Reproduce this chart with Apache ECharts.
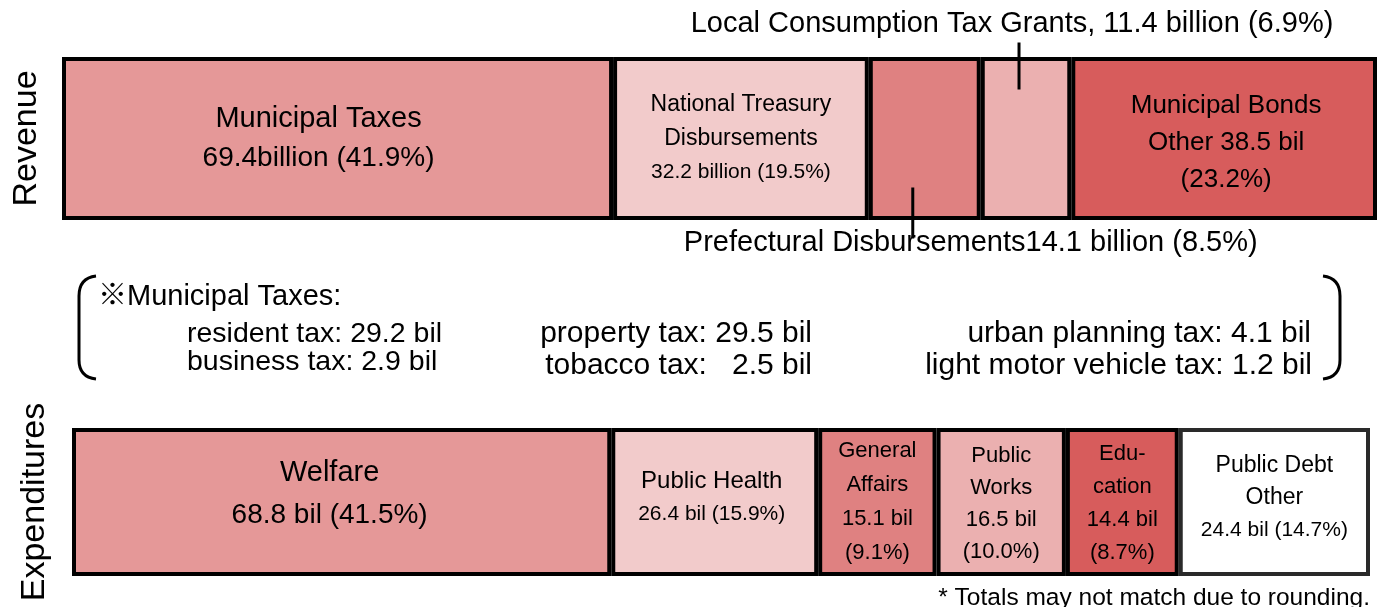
<!DOCTYPE html>
<html>
<head>
<meta charset="utf-8">
<title>Revenue / Expenditures</title>
<script src="https://cdn.jsdelivr.net/npm/echarts@6/dist/echarts.min.js"></script>
<style>
  html, body { margin: 0; padding: 0; background: #fff; }
  #chart { width: 1384px; height: 607px; }
</style>
</head>
<body>
<div id="chart"></div>
<script>
// revenue (billion)
const revNames = ['Municipal Taxes', 'National Treasury Disbursements', 'Prefectural Disbursements', 'Local Consumption Tax Grants', 'Municipal Bonds Other'];
const revValues = [69.4, 32.2, 14.1, 11.4, 38.5];
const revShares = [41.9, 19.5, 8.5, 6.9, 23.2];

// expenditures (billion)
const expNames = ['Welfare', 'Public Health', 'General Affairs', 'Public Works', 'Education', 'Public Debt Other'];
const expValues = [68.8, 26.4, 15.1, 16.5, 14.4, 24.4];
const expShares = [41.5, 15.9, 9.1, 10.0, 8.7, 14.7];

// municipal tax breakdown (billion)
const taxNames = ['resident tax', 'business tax', 'property tax', 'tobacco tax', 'urban planning tax', 'light motor vehicle tax'];
const taxValues = [29.2, 2.9, 29.5, 2.5, 4.1, 1.2];

const revColors = ['#e59898', '#f2cbcb', '#df8181', '#ebb0b0', '#d75c5c'];
const expColors = ['#e59898', '#f2cbcb', '#df8181', '#ebb0b0', '#d75c5c', '#ffffff'];

const FONT = "'Liberation Sans', Arial, 'Noto Sans CJK JP', sans-serif";
const f1 = v => v.toFixed(1);
const sum = arr => arr.reduce((a, b) => a + b, 0);

// label layout for each box: lines, font sizes, line height, shift
const revLabels = [
  { lines: [revNames[0], f1(revValues[0]) + 'billion (' + f1(revShares[0]) + '%)'], sizes: [29, 28], lh: 40, dx: -19, dy: 0 },
  { lines: ['National Treasury', 'Disbursements', f1(revValues[1]) + ' billion (' + f1(revShares[1]) + '%)'], sizes: [23, 23, 21], lh: 34, dx: 0, dy: 0 },
  'out',
  'out',
  { lines: ['Municipal Bonds', 'Other ' + f1(revValues[4]) + ' bil', '(' + f1(revShares[4]) + '%)'], sizes: [26, 26, 26], lh: 37, dx: 2, dy: 4 }
];
const expLabels = [
  { lines: [expNames[0], f1(expValues[0]) + ' bil (' + f1(expShares[0]) + '%)'], sizes: [29, 28], lh: 43, dx: -12, dy: -8 },
  { lines: [expNames[1], f1(expValues[1]) + ' bil (' + f1(expShares[1]) + '%)'], sizes: [24, 21], lh: 33, dx: -3, dy: -4 },
  { lines: ['General', 'Affairs', f1(expValues[2]) + ' bil', '(' + f1(expShares[2]) + '%)'], sizes: [22, 22, 22, 22], lh: 34, dx: 0, dy: 0 },
  { lines: ['Public', 'Works', f1(expValues[3]) + ' bil', '(' + f1(expShares[3]) + '%)'], sizes: [22, 22, 22, 22], lh: 32, dx: 0, dy: 2 },
  { lines: ['Edu-', 'cation', f1(expValues[4]) + ' bil', '(' + f1(expShares[4]) + '%)'], sizes: [22, 22, 22, 22], lh: 33, dx: 0, dy: 1 },
  { lines: ['Public Debt', 'Other', f1(expValues[5]) + ' bil (' + f1(expShares[5]) + '%)'], sizes: [23, 23, 21], lh: 32, dx: 0, dy: -4 }
];

function boxLabel(spec) {
  const rich = {};
  spec.sizes.forEach((s, i) => {
    rich['s' + i] = { fontSize: s, lineHeight: spec.lh, fontFamily: FONT, color: '#000' };
  });
  return {
    show: true,
    position: 'inside',
    offset: [spec.dx, spec.dy],
    align: 'center',
    formatter: () => spec.lines.map((t, i) => '{s' + i + '|' + t + '}').join('\n'),
    rich: rich
  };
}

// outside labels (prefectural / local consumption)
const outLabel = {
  2: { position: 'bottom', offset: [46, 3], text: revNames[2] + f1(revValues[2]) + ' billion (' + f1(revShares[2]) + '%)' },
  3: { position: 'top', offset: [-14, -13], text: revNames[3] + ', ' + f1(revValues[3]) + ' billion (' + f1(revShares[3]) + '%)' }
};

const series = [];
revValues.forEach((v, i) => {
  let label;
  if (revLabels[i] === 'out') {
    label = {
      show: true,
      position: outLabel[i].position,
      offset: outLabel[i].offset,
      formatter: () => outLabel[i].text,
      fontFamily: FONT, fontSize: 29, lineHeight: 30, color: '#000'
    };
  } else {
    label = boxLabel(revLabels[i]);
  }
  series.push({
    name: revNames[i],
    type: 'bar',
    stack: 'rev',
    xAxisIndex: 0,
    yAxisIndex: 0,
    barCategoryGap: '0%',
    data: [v],
    itemStyle: { color: revColors[i], borderColor: '#000', borderWidth: 4 },
    label: label
  });
});
expValues.forEach((v, i) => {
  series.push({
    name: expNames[i],
    type: 'bar',
    stack: 'exp',
    xAxisIndex: 1,
    yAxisIndex: 1,
    barCategoryGap: '0%',
    data: [v],
    itemStyle: { color: expColors[i], borderColor: i === 5 ? '#2a2a2a' : '#000', borderWidth: 4 },
    label: boxLabel(expLabels[i])
  });
});

const hiddenX = (max) => ({
  type: 'value', min: 0, max: max,
  show: false, splitLine: { show: false }
});
const nameY = (name, gap) => ({
  type: 'category',
  data: [name],
  name: name,
  nameLocation: 'middle',
  nameRotate: 90,
  nameGap: gap,
  nameTextStyle: { fontFamily: FONT, fontSize: 34, color: '#000' },
  axisLine: { show: false },
  axisTick: { show: false },
  axisLabel: { show: false }
});

// brace + municipal tax breakdown texts
const txt = (id, x, y, text, align, size) => ({
  id: id, type: 'text', x: x, y: y,
  style: { text: text, fontFamily: FONT, fontSize: size || 29, fill: '#000', align: align, verticalAlign: 'middle' }
});
const taxText = i => taxNames[i] + ': ' + f1(taxValues[i]) + ' bil';
const stroke = { fill: null, stroke: '#000', lineWidth: 3 };
const brace = (id, xEdge, xTip) => [
  { id: id + 't', type: 'bezierCurve', shape: { x1: xTip, y1: 276, cpx1: xEdge, cpy1: 278, x2: xEdge, y2: 296 }, style: stroke },
  { id: id + 'm', type: 'line', shape: { x1: xEdge, y1: 296, x2: xEdge, y2: 360 }, style: stroke },
  { id: id + 'b', type: 'bezierCurve', shape: { x1: xEdge, y1: 360, cpx1: xEdge, cpy1: 377, x2: xTip, y2: 379 }, style: stroke }
];

const graphic = [].concat(
  brace('braceL', 79, 96),
  brace('braceR', 1340, 1323),
  [
    txt('taxHead', 98, 297, '\u203bMunicipal Taxes:', 'left'),
    txt('tax0', 187, 334, taxText(0), 'left', 28.5),
    txt('tax1', 187, 362, taxText(1), 'left', 28.5),
    txt('tax2', 812, 334, taxText(2), 'right', 30),
    txt('tax3', 812, 366, taxNames[3] + ':   ' + f1(taxValues[3]) + ' bil', 'right', 30),
    txt('tax4', 1311, 334, taxText(4), 'right', 30),
    txt('tax5', 1312, 366, taxText(5), 'right', 30),
    txt('note', 1370, 598, '* Totals may not match due to rounding.', 'right', 24.5)
  ]
);

const chart = echarts.init(document.getElementById('chart'), null, { renderer: 'canvas' });
chart.setOption({
  animation: false,
  backgroundColor: '#fff',
  grid: [
    { left: 62, top: 57, width: 1315, height: 163 },
    { left: 72, top: 428, width: 1298, height: 148 }
  ],
  xAxis: [
    Object.assign(hiddenX(sum(revValues)), { gridIndex: 0 }),
    Object.assign(hiddenX(sum(expValues)), { gridIndex: 1 })
  ],
  yAxis: [
    Object.assign(nameY('Revenue', 18), { gridIndex: 0 }),
    Object.assign(nameY('Expenditures', 20), { gridIndex: 1 })
  ],
  series: series,
  graphic: graphic
});

// leader lines from the two narrow boxes to their outside labels
const mid = (vals, i) => sum(vals.slice(0, i)) + vals[i] / 2;
const pPref = chart.convertToPixel({ gridIndex: 0 }, [mid(revValues, 2), 0]);
const pLocal = chart.convertToPixel({ gridIndex: 0 }, [mid(revValues, 3), 0]);
chart.setOption({
  graphic: [
    { id: 'leadPref', type: 'line', z: 100, shape: { x1: pPref[0] - 12, y1: pPref[1] + 49, x2: pPref[0] - 12, y2: pPref[1] + 100 }, style: { stroke: '#000', lineWidth: 3 } },
    { id: 'leadLocal', type: 'line', z: 100, shape: { x1: pLocal[0] - 7, y1: pLocal[1] - 96, x2: pLocal[0] - 7, y2: pLocal[1] - 49 }, style: { stroke: '#000', lineWidth: 3 } }
  ]
});
</script>
</body>
</html>
